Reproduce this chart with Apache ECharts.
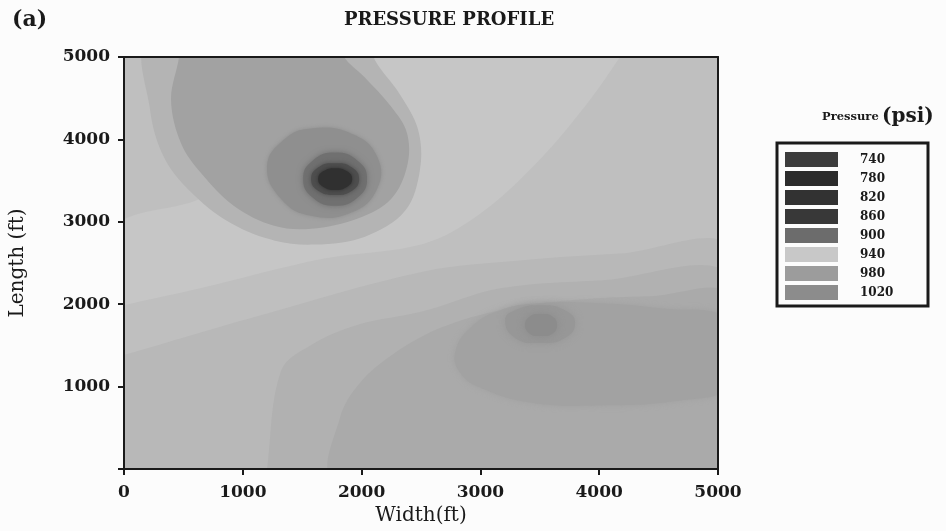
<!DOCTYPE html>
<html>
<head>
<meta charset="utf-8">
<script src="https://cdn.jsdelivr.net/npm/echarts@6/dist/echarts.min.js"></script>
<style>
  html, body { margin: 0; padding: 0; background: #fcfcfc; }
  #chart { width: 946px; height: 531px; }
</style>
</head>
<body>
<div id="chart"></div>
<script>
// ---------------- DATA ----------------
// Axis ranges (ft)
const widthRange = [0, 5000];
const lengthRange = [0, 5000];
const tickStep = 1000;

// Legend pressure levels (psi)
const pressureLevels = [740, 780, 820, 860, 900, 940, 980, 1020];

// Filled contour regions, vertices in (width ft, length ft), drawn back to front
const regionField      = [[-100,-100],[5100,-100],[5100,5100],[-100,5100]];
const regionLightBand  = [[-100,2916],[640,3278],[1482,3880],[1903,5200],[4260,5200],[4175,5000],[3923,4482],[3502,3760],[2997,3097],[2525,2735],[1684,2554],[640,2193],[0,1988],[-100,1952]];
const regionInj1       = [[-100,1349],[0,1385],[1061,1831],[2525,2398],[3334,2530],[4175,2614],[5100,2675],[5100,-100],[-100,-100]];
const regionInj2       = [[1204,-100],[1204,0],[1322,1193],[1575,1506],[1962,1747],[2525,1916],[3166,2193],[4007,2289],[5100,2337],[5100,-100]];
const regionInj3       = [[1777,-100],[1819,627],[1987,1048],[2282,1410],[2660,1711],[3166,1928],[3755,2048],[4428,2097],[5100,2097],[5100,-100]];
const regionInj4       = [[2787,1410],[2913,1711],[3166,1928],[3502,2012],[4007,2012],[4512,1952],[5101,1831],[5227,1410],[5101,988],[4681,831],[4007,771],[3418,807],[2997,988],[2829,1169]];
const regionInj5       = [[3208,1807],[3292,1928],[3502,1988],[3712,1928],[3797,1771],[3712,1590],[3502,1530],[3292,1590]];
const regionInj6       = [[3376,1747],[3418,1855],[3502,1880],[3603,1855],[3645,1747],[3603,1639],[3502,1615],[3418,1639]];
const regionProd930    = [[219,5200],[219,4362],[345,3760],[598,3314],[909,2976],[1271,2771],[1608,2723],[2029,2820],[2366,3133],[2492,3639],[2475,4121],[2324,4543],[2113,4960],[2070,5200]];
const regionProd900    = [[463,5200],[463,5000],[396,4482],[480,3952],[648,3591],[926,3193],[1263,2952],[1575,2916],[1962,3037],[2248,3278],[2383,3675],[2383,4073],[2248,4398],[2021,4760],[1852,5000],[1819,5200]];
const regionProd860    = [[1204,3675],[1347,4000],[1575,4133],[1911,4073],[2130,3796],[2130,3398],[1911,3109],[1575,3073],[1322,3278]];
const regionProd820    = [[1508,3518],[1587,3740],[1777,3840],[1967,3740],[2046,3518],[1967,3296],[1777,3196],[1587,3296]];
const regionProd780    = [[1575,3518],[1634,3660],[1777,3711],[1920,3660],[1979,3518],[1920,3376],[1777,3325],[1634,3376]];
const regionProd740    = [[1634,3518],[1676,3612],[1777,3651],[1878,3612],[1920,3518],[1878,3424],[1777,3385],[1676,3424]];

// ---------------- STYLE ----------------
const serif = 'DejaVu Serif';
const legendColors = ['#3c3c3c', '#2b2b2b', '#323232', '#383838', '#6c6c6c', '#c8c8c8', '#9c9c9c', '#8c8c8c'];
const bands = [
  { pts: regionField,     fill: '#bfbfbf', smooth: 0 },
  { pts: regionLightBand, fill: '#c6c6c6', smooth: 0.35 },
  { pts: regionInj1,      fill: '#b8b8b8', smooth: 0.35 },
  { pts: regionInj2,      fill: '#b1b1b1', smooth: 0.35 },
  { pts: regionInj3,      fill: '#aaaaaa', smooth: 0.35 },
  { pts: regionInj4,      fill: '#a2a2a2', smooth: 0.45, blur: 6 },
  { pts: regionInj5,      fill: '#979797', smooth: 0.5, blur: 8 },
  { pts: regionInj6,      fill: '#8c8c8c', smooth: 0.5, blur: 8 },
  { pts: regionProd930,   fill: '#b4b4b4', smooth: 0.35 },
  { pts: regionProd900,   fill: '#a2a2a2', smooth: 0.35 },
  { pts: regionProd860,   fill: '#8f8f8f', smooth: 0.45, blur: 4 },
  { pts: regionProd820,   fill: '#707070', smooth: 0.5, blur: 6 },
  { pts: regionProd780,   fill: '#4e4e4e', smooth: 0.5, blur: 5 },
  { pts: regionProd740,   fill: '#303030', smooth: 0.5, blur: 4 }
];

const chart = echarts.init(document.getElementById('chart'), null, { renderer: 'canvas' });

const labelStyle = { color: '#1a1a1a', fontFamily: serif, fontSize: 17, fontWeight: 'bold' };
const axisCommon = {
  type: 'value',
  interval: tickStep,
  splitLine: { show: false },
  axisLine: { show: true, onZero: false, lineStyle: { color: '#1a1a1a', width: 2 } },
  axisTick: { show: true, length: 6, lineStyle: { color: '#1a1a1a', width: 2 } },
  nameTextStyle: { color: '#1a1a1a', fontFamily: serif, fontSize: 20 },
  z: 5
};

const option = {
  backgroundColor: '#fcfcfc',
  animation: false,
  title: [
    { text: '(a)', left: 7, top: 4, textStyle: { fontFamily: serif, fontSize: 22, fontWeight: 'bold', color: '#1a1a1a' } },
    { text: 'PRESSURE PROFILE', left: 444, top: 6, textAlign: 'center', textStyle: { fontFamily: serif, fontSize: 18, fontWeight: 'bold', color: '#1a1a1a' } }
  ],
  grid: { left: 124, right: 228, top: 57, bottom: 59, containLabel: false },
  xAxis: [
    Object.assign({}, axisCommon, {
      min: widthRange[0], max: widthRange[1], position: 'bottom',
      name: 'Width(ft)', nameLocation: 'middle', nameGap: 37,
      axisLabel: Object.assign({}, labelStyle, { margin: 15, formatter: v => String(v) })
    }),
    Object.assign({}, axisCommon, {
      min: widthRange[0], max: widthRange[1], position: 'top',
      axisTick: { show: false }, axisLabel: { show: false }
    })
  ],
  yAxis: [
    Object.assign({}, axisCommon, {
      min: lengthRange[0], max: lengthRange[1], position: 'left',
      name: 'Length (ft)', nameLocation: 'middle', nameGap: 96,
      axisLabel: Object.assign({}, labelStyle, { margin: 14, formatter: v => (v === 0 ? '' : String(v)) })
    }),
    Object.assign({}, axisCommon, {
      min: lengthRange[0], max: lengthRange[1], position: 'right',
      axisTick: { show: false }, axisLabel: { show: false }
    })
  ],
  visualMap: {
    type: 'piecewise',
    seriesIndex: 1,
    orient: 'vertical',
    align: 'left',
    inverse: true,
    left: 785,
    top: 152,
    padding: 0,
    itemWidth: 53,
    itemHeight: 15,
    itemGap: 4,
    textGap: 22,
    itemSymbol: 'rect',
    selectedMode: false,
    showLabel: true,
    pieces: pressureLevels.map((v, i) => ({ value: v, label: String(v), color: legendColors[i] })),
    textStyle: { fontFamily: serif, fontSize: 12, fontWeight: 'bold', color: '#1a1a1a' }
  },
  graphic: [
    {
      type: 'rect',
      shape: { x: 777, y: 143, width: 151, height: 163 },
      style: { fill: 'none', stroke: '#1a1a1a', lineWidth: 3 },
      z: 10
    },
    {
      type: 'text',
      left: 822,
      top: 107,
      style: {
        text: '{a|Pressure} {b|(psi)}',
        rich: {
          a: { fontFamily: serif, fontSize: 11.5, fontWeight: 'bold', fill: '#1a1a1a', verticalAlign: 'middle' },
          b: { fontFamily: serif, fontSize: 20, fontWeight: 'bold', fill: '#1a1a1a', verticalAlign: 'middle' }
        }
      }
    }
  ],
  series: [
    {
      type: 'custom',
      coordinateSystem: 'cartesian2d',
      xAxisIndex: 0,
      yAxisIndex: 0,
      clip: true,
      silent: true,
      data: bands.map((b, i) => [widthRange[0] + 2500, lengthRange[0] + 2500, i]),
      renderItem: function (params, api) {
        const band = bands[params.dataIndex];
        const points = band.pts.map(p => api.coord(p));
        const style = { fill: band.fill, stroke: null };
        if (band.blur) {
          style.shadowBlur = band.blur;
          style.shadowColor = band.fill;
        }
        return {
          type: 'polygon',
          shape: { points: points, smooth: band.smooth },
          style: style
        };
      },
      z: 2
    },
    {
      type: 'scatter',
      data: [],
      silent: true
    }
  ]
};

chart.setOption(option);
</script>
</body>
</html>
